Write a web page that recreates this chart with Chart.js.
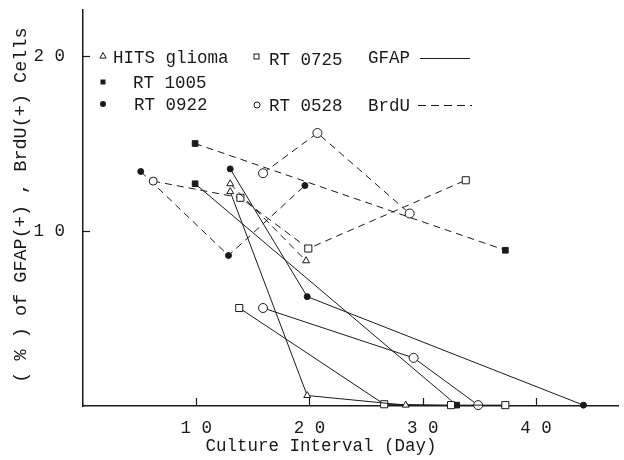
<!DOCTYPE html>
<html>
<head>
<meta charset="utf-8">
<script src="https://cdn.jsdelivr.net/npm/chart.js@4.4.0/dist/chart.umd.min.js"></script>
<style>
  html, body { margin: 0; padding: 0; background: #fff; }
</style>
</head>
<body>
<canvas id="chart" width="624" height="460"></canvas>
<script>
// culture interval (day) and % values
var xTicks = [10, 20, 30, 40];
var yTicks = [10, 20];

var hitsBrdUDays = [13.0, 19.7];
var hitsBrdU     = [12.7, 8.3];
var hitsGfapDays = [13.0, 19.8, 28.5];
var hitsGfap     = [12.25, 0.6, 0.05];

var rt0725BrdUDays = [6.2, 13.9, 19.9, 33.8];
var rt0725BrdU     = [12.85, 11.9, 9.0, 12.9];
var rt0725GfapDays = [13.8, 26.6, 32.5, 37.3];
var rt0725Gfap     = [5.6, 0.1, 0.05, 0.05];

var rt1005BrdUDays = [9.9, 37.3];
var rt1005BrdU     = [15.0, 8.9];
var rt1005GfapDays = [9.9, 33.0];
var rt1005Gfap     = [12.7, 0.05];

var rt0922BrdUDays = [5.1, 12.85, 19.6];
var rt0922BrdU     = [13.4, 8.6, 12.6];
var rt0922GfapDays = [13.0, 19.8, 44.2];
var rt0922Gfap     = [13.55, 6.25, 0.05];

var rt0528BrdUDays = [15.9, 20.7, 28.85];
var rt0528BrdU     = [13.3, 15.6, 11.0];
var rt0528GfapDays = [15.9, 29.2, 34.9];
var rt0528Gfap     = [5.6, 2.75, 0.05];

var FONT = '"Liberation Mono", "DejaVu Sans Mono", monospace';
var INK = '#1a1a1a';

function pts(xs, ys){
  return xs.map(function(x, i){ return {x: x, y: ys[i]}; });
}
function spaced(v){
  return String(v).split('').join(' ');
}
function noPad(s){
  s.paddingTop = 0; s.paddingBottom = 0; s.paddingLeft = 0; s.paddingRight = 0;
}

function series(label, xs, ys, style, filled, dashed, radius){
  return {
    label: label,
    data: pts(xs, ys),
    showLine: true,
    borderColor: INK,
    borderWidth: 1,
    borderDash: dashed ? [7, 5] : [],
    pointStyle: style,
    pointRadius: radius,
    pointBorderWidth: 1,
    pointBorderColor: INK,
    pointBackgroundColor: filled ? INK : '#fff',
    pointHoverRadius: radius,
    clip: false,
    tension: 0
  };
}

var datos = {
  type: 'scatter',
  data: {
    datasets: [
      series('HITS glioma BrdU', hitsBrdUDays, hitsBrdU, 'triangle', false, true, 4),
      series('HITS glioma GFAP', hitsGfapDays, hitsGfap, 'triangle', false, false, 4),
      series('RT 0725 BrdU', rt0725BrdUDays, rt0725BrdU, ['circle', 'rect', 'rect', 'rect'], false, true, [4, 5, 5, 5]),
      series('RT 0725 GFAP', rt0725GfapDays, rt0725Gfap, 'rect', false, false, 5),
      series('RT 1005 BrdU', rt1005BrdUDays, rt1005BrdU, 'rect', true, true, 4),
      series('RT 1005 GFAP', rt1005GfapDays, rt1005Gfap, 'rect', true, false, 4),
      series('RT 0922 BrdU', rt0922BrdUDays, rt0922BrdU, 'circle', true, true, 3),
      series('RT 0922 GFAP', rt0922GfapDays, rt0922Gfap, 'circle', true, false, 3),
      series('RT 0528 BrdU', rt0528BrdUDays, rt0528BrdU, 'circle', false, true, 4.5),
      series('RT 0528 GFAP', rt0528GfapDays, rt0528Gfap, 'circle', false, false, 4.5)
    ]
  },
  options: {
    responsive: false,
    animation: false,
    layout: { padding: { left: 0, right: 0, top: 10, bottom: 0 } },
    plugins: { legend: { display: false }, tooltip: { enabled: false } },
    scales: {
      x: {
        type: 'linear',
        min: 0,
        max: 47.25,
        afterFit: function(s){ s.height = 54; noPad(s); },
        afterBuildTicks: function(s){ s.ticks = xTicks.map(function(v){ return {value: v}; }); },
        grid: { display: false, drawTicks: false },
        border: { display: true, color: INK, width: 1.5 },
        ticks: { color: INK, font: { family: FONT, size: 17.5 }, padding: 12, maxRotation: 0, autoSkip: false,
                 callback: function(v){ return spaced(v); } }
      },
      y: {
        type: 'linear',
        min: 0,
        max: 22.63,
        afterFit: function(s){ s.width = 83; noPad(s); },
        afterBuildTicks: function(s){ s.ticks = yTicks.map(function(v){ return {value: v}; }); },
        grid: { display: false, drawTicks: false },
        border: { display: true, color: INK, width: 1.5 },
        ticks: { color: INK, font: { family: FONT, size: 17.5 }, padding: 18,
                 callback: function(v){ return spaced(v); } }
      }
    }
  },
  plugins: [{
    id: 'decor',
    afterDraw: function(chart){
      var ctx = chart.ctx;
      var xs = chart.scales.x, ys = chart.scales.y;
      var a = chart.chartArea;
      ctx.save();
      ctx.strokeStyle = INK;
      ctx.fillStyle = INK;
      ctx.lineWidth = 1.2;
      // inward tick marks
      xTicks.forEach(function(v){
        var px = Math.round(xs.getPixelForValue(v)) + 0.5;
        ctx.beginPath(); ctx.moveTo(px, a.bottom); ctx.lineTo(px, a.bottom - 8); ctx.stroke();
      });
      yTicks.forEach(function(v){
        var py = Math.round(ys.getPixelForValue(v)) + 0.5;
        ctx.beginPath(); ctx.moveTo(a.left, py); ctx.lineTo(a.left + 7, py); ctx.stroke();
      });

      // axis titles
      ctx.font = '17.5px ' + FONT;
      ctx.textAlign = 'center';
      ctx.textBaseline = 'middle';
      ctx.fillText('Culture Interval (Day)', 321, 446);
      ctx.save();
      ctx.translate(21, 205);
      ctx.rotate(-Math.PI / 2);
      ctx.font = '18.5px ' + FONT;
      ctx.fillText('( % ) of GFAP(+) , BrdU(+) Cells', 0, 0);
      ctx.restore();

      // legend
      ctx.lineWidth = 1;
      ctx.textAlign = 'left';
      ctx.font = '17.5px ' + FONT;
      function tri(x, y, r){
        ctx.beginPath();
        ctx.moveTo(x, y - r); ctx.lineTo(x + r * 0.9, y + r * 0.6); ctx.lineTo(x - r * 0.9, y + r * 0.6); ctx.closePath();
        ctx.stroke();
      }
      tri(103, 56, 3.5);
      ctx.fillText('HITS glioma', 113, 58);
      ctx.strokeRect(254, 54, 5, 5);
      ctx.fillText('RT 0725', 269, 60);
      ctx.fillText('GFAP', 368, 58);
      ctx.setLineDash([]);
      ctx.beginPath(); ctx.moveTo(420, 58.5); ctx.lineTo(470, 58.5); ctx.stroke();

      ctx.fillRect(100.5, 79.5, 5, 5);
      ctx.fillText('RT 1005', 133, 83);

      ctx.beginPath(); ctx.arc(103, 104, 3, 0, Math.PI * 2); ctx.fill();
      ctx.fillText('RT 0922', 134, 105);
      ctx.beginPath(); ctx.arc(257, 105, 3, 0, Math.PI * 2); ctx.stroke();
      ctx.fillText('RT 0528', 269, 106);
      ctx.fillText('BrdU', 368, 106);
      ctx.setLineDash([8, 5]);
      ctx.beginPath(); ctx.moveTo(418, 105.5); ctx.lineTo(472, 105.5); ctx.stroke();
      ctx.restore();
    }
  }]
};

var canvas = document.getElementById('chart').getContext('2d');
window.grafico = new Chart(canvas, datos);
</script>
</body>
</html>
